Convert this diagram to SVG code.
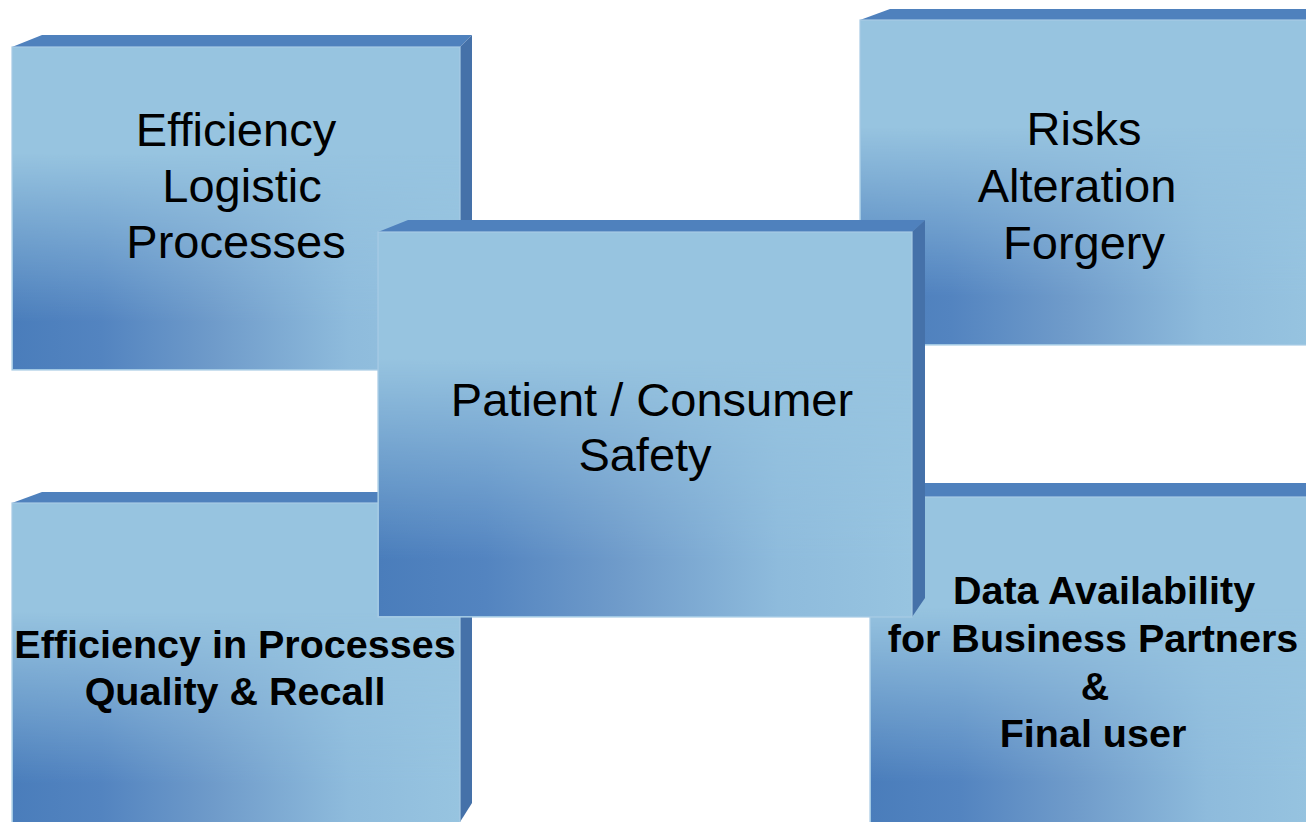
<svg xmlns="http://www.w3.org/2000/svg" width="1306" height="822" viewBox="0 0 1306 822">
<style>
.top{fill:#4f81bd}
.side{fill:#4571a9}
.front{fill:#97c4e0;stroke:#a8cbe4;stroke-width:1.2}
.shade{fill:url(#hGrad);mask:url(#vMask)}
.lbl{font-family:"Liberation Sans",Arial,sans-serif;font-size:47px;fill:#000;text-anchor:middle}
.blbl{font-family:"Liberation Sans",Arial,sans-serif;font-size:39.5px;font-weight:bold;fill:#000;text-anchor:middle}
</style>
<defs>
<linearGradient id="hGrad" x1="0" y1="0" x2="1" y2="0">
<stop offset="0" stop-color="#4a7dbb"/>
<stop offset="0.2" stop-color="#5384c0"/>
<stop offset="0.45" stop-color="#6f9bca"/>
<stop offset="0.75" stop-color="#8ebbdc"/>
<stop offset="1" stop-color="#97c4e0"/>
</linearGradient>
<linearGradient id="vGrad" x1="0" y1="0" x2="0" y2="1">
<stop offset="0" stop-color="#000"/>
<stop offset="0.33" stop-color="#000"/>
<stop offset="0.85" stop-color="#fff"/>
<stop offset="1" stop-color="#fff"/>
</linearGradient>
<mask id="vMask" maskUnits="objectBoundingBox" maskContentUnits="objectBoundingBox" x="0" y="0" width="1" height="1">
<rect width="1" height="1" fill="url(#vGrad)"/>
</mask>
</defs>
<rect width="1306" height="822" fill="#ffffff"/>
<g id="connectors"/>
<g id="box-logistic">
<polygon class="top" points="12,47 42,35 472,35 460,47"/>
<polygon class="side" points="460,47 472,35 472,358 460,370"/>
<rect class="front" x="12" y="47" width="448" height="323"/>
<rect class="shade" x="12.6" y="47.6" width="446.8" height="321.8"/>
<text class="lbl" x="236" y="146">Efficiency</text>
<text class="lbl" x="242" y="202">Logistic</text>
<text class="lbl" x="236" y="258">Processes</text>
</g>
<g id="box-risks">
<polygon class="top" points="860,20 890,9 1320,9 1310,20"/>
<rect class="front" x="860" y="20" width="460" height="325"/>
<rect class="shade" x="860.6" y="20.6" width="458.8" height="323.8"/>
<text class="lbl" x="1084" y="145">Risks</text>
<text class="lbl" x="1077" y="202">Alteration</text>
<text class="lbl" x="1084" y="259">Forgery</text>
</g>
<g id="box-quality">
<polygon class="top" points="12,503 42,492 472,492 460,503"/>
<polygon class="side" points="460,503 472,492 472,803 460,822"/>
<rect class="front" x="12" y="503" width="448" height="330"/>
<rect class="shade" x="12.6" y="503.6" width="446.8" height="328.8"/>
<text class="blbl" x="235" y="658">Efficiency in Processes</text>
<text class="blbl" x="235" y="705">Quality &amp; Recall</text>
</g>
<g id="box-data">
<polygon class="top" points="870,497 900,483 1320,483 1310,497"/>
<rect class="front" x="870" y="497" width="450" height="335"/>
<rect class="shade" x="870.6" y="497.6" width="448.8" height="333.8"/>
<text class="blbl" x="1104" y="604">Data Availability</text>
<text class="blbl" x="1093" y="652">for Business Partners</text>
<text class="blbl" x="1095" y="700">&amp;</text>
<text class="blbl" x="1093" y="747">Final user</text>
</g>
<g id="box-safety">
<polygon class="top" points="378,232 408,220 925,220 912,232"/>
<polygon class="side" points="912,232 925,220 925,598 912,617"/>
<rect class="front" x="378" y="232" width="534" height="385"/>
<rect class="shade" x="378.6" y="232.6" width="532.8" height="383.8"/>
<text class="lbl" x="652" y="416">Patient / Consumer</text>
<text class="lbl" x="645" y="471">Safety</text>
</g>
</svg>
